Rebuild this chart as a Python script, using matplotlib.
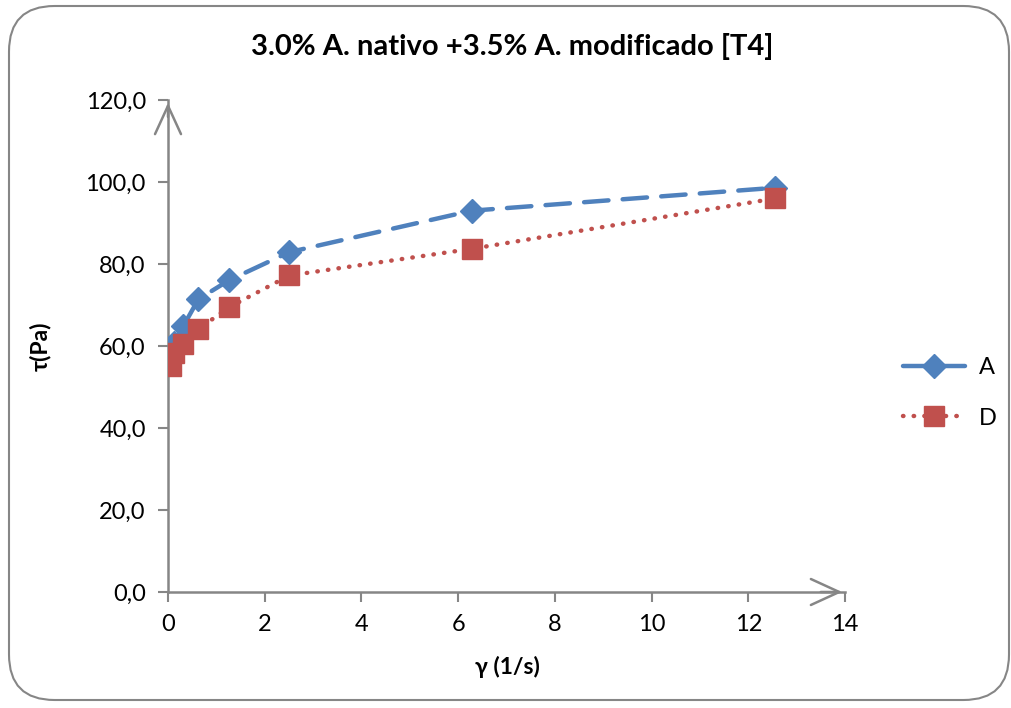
import numpy as np
import matplotlib.pyplot as plt
from matplotlib.patches import FancyBboxPatch

plt.rcParams.update({
    "font.family": ["Lato", "DejaVu Sans"],
    "font.size": 17,
})

# shear rate (1/s) and shear stress (Pa)
gamma = [0.0628, 0.126, 0.314, 0.628, 1.256, 2.51, 6.28, 12.56]
tau_A = [58.0, 60.8, 64.8, 71.4, 76.0, 82.9, 93.0, 98.6]
tau_D = [55.2, 58.4, 60.6, 64.1, 69.4, 77.2, 83.7, 96.0]

xticks = [0, 2, 4, 6, 8, 10, 12, 14]
yticks = [0, 20, 40, 60, 80, 100, 120]

blue = "#4F81BD"
red = "#C0504D"
grey = "#868686"

fig = plt.figure(figsize=(10.12, 7.08), dpi=100)
ax = fig.add_axes([168 / 1012, 1 - 592 / 708, (845 - 168) / 1012, (592 - 100) / 708])

# outer rounded frame
frame = FancyBboxPatch((9 / 1012, 8 / 708), 1000 / 1012, 694 / 708,
                       boxstyle="round,pad=0,rounding_size=0.045",
                       transform=fig.transFigure, fill=False,
                       edgecolor=grey, linewidth=1.5, mutation_aspect=1012 / 708)
fig.patches.append(frame)

ax.plot(gamma, tau_A, color=blue, linestyle=(0, (5.5, 3.2)), linewidth=3.2,
        marker="D", markersize=12.5, markerfacecolor=blue, markeredgecolor=blue,
        label="A", dash_capstyle="round", zorder=3)
ax.plot(gamma, tau_D, color=red, linestyle=(0, (0.1, 2.3)), linewidth=3.2,
        marker="s", markersize=14.5, markerfacecolor=red, markeredgecolor=red,
        label="D", dash_capstyle="round", zorder=4)

ax.set_xlim(0, 14)
ax.set_ylim(0, 120)
ax.set_xticks(xticks)
ax.set_yticks(yticks)
ax.set_yticklabels([f"{v:.1f}".replace(".", ",") for v in yticks])

for s in ["top", "right"]:
    ax.spines[s].set_visible(False)
for s in ["left", "bottom"]:
    ax.spines[s].set_color(grey)
    ax.spines[s].set_linewidth(1.8)
ax.tick_params(colors=grey, labelcolor="black", width=1.5, length=7,
               labelsize=17)
ax.tick_params(axis="y", pad=9)
ax.tick_params(axis="x", pad=9)

# open arrowheads at the axis ends
ax.annotate("", xy=(1, 0), xytext=(0.96, 0), xycoords="axes fraction",
            arrowprops=dict(arrowstyle="->,head_length=1.2,head_width=0.55",
                            color=grey, lw=1.8), annotation_clip=False)
ax.annotate("", xy=(0, 1), xytext=(0, 0.96), xycoords="axes fraction",
            arrowprops=dict(arrowstyle="->,head_length=1.2,head_width=0.55",
                            color=grey, lw=1.8), annotation_clip=False)

fig.text(512 / 1012, 1 - 47 / 708, "3.0% A. nativo +3.5% A. modificado [T4]",
         ha="center", va="center", fontsize=21, fontweight="bold")
fig.text(40 / 1012, 1 - 346 / 708, "τ(Pa)", ha="center", va="center",
         rotation=90, fontsize=16.5, fontweight="bold")
fig.text(507 / 1012, 1 - 667 / 708, "γ (1/s)", ha="center", va="center",
         fontsize=16.5, fontweight="bold")

leg = ax.legend(loc="center left", bbox_to_anchor=(882 / 1012, 1 - 393 / 708),
                bbox_transform=fig.transFigure, frameon=False, handlelength=2.6,
                labelspacing=1.25, fontsize=17, handletextpad=0.6)

fig.savefig("out.png", dpi=100)
